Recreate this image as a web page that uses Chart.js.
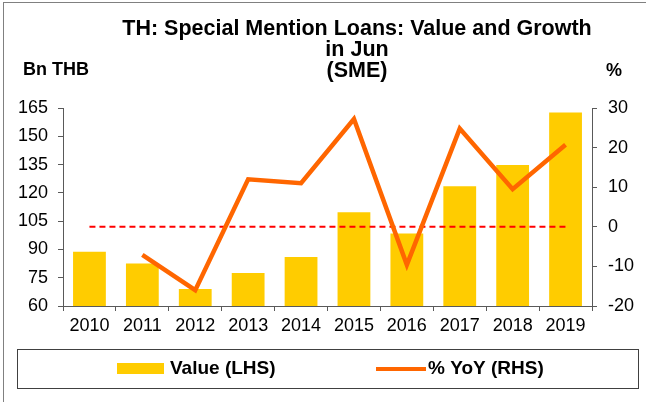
<!DOCTYPE html>
<html>
<head>
<meta charset="utf-8">
<script src="https://cdn.jsdelivr.net/npm/chart.js@4"></script>
<style>
  html, body { margin: 0; padding: 0; background: #fff; }
  #wrap { width: 646px; height: 402px; position: relative; }
</style>
</head>
<body>
<div id="wrap"><canvas id="smlChart"></canvas></div>
<script>
  // Special mention loans (SME), value in Bn THB and YoY growth in %
  const years = ['2010', '2011', '2012', '2013', '2014', '2015', '2016', '2017', '2018', '2019'];
  const valueBn = [88.8, 82.6, 69.0, 77.5, 86.0, 109.7, 98.5, 123.5, 134.8, 162.6];
  const yoyPct = [null, -7.1, -16.0, 12.0, 11.0, 27.2, -9.6, 24.8, 9.5, 20.7];
  const zeroRef = [0, 0, 0, 0, 0, 0, 0, 0, 0, 0];

  const leftAxis = { min: 60, max: 165, step: 15 };
  const rightAxis = { min: -20, max: 30, step: 10 };

  const titleLines = ['TH: Special Mention Loans: Value and Growth', 'in Jun', '(SME)'];

  const BAR_COLOR = '#FFCC00';
  const LINE_COLOR = '#FF6600';
  const FONT = '"Liberation Sans", Arial, sans-serif';

  // title, unit captions, legend box and outer frame
  const decor = {
    id: 'decor',
    beforeDraw(chart) {
      const ctx = chart.ctx;
      ctx.save();
      ctx.fillStyle = '#fff';
      ctx.fillRect(0, 0, chart.width, chart.height);
      ctx.restore();
    },
    afterDraw(chart) {
      const ctx = chart.ctx;
      const ds = chart.data.datasets;
      ctx.save();

      ctx.strokeStyle = '#808080';
      ctx.lineWidth = 1;
      ctx.strokeRect(3.5, 2.5, 700, 500);

      ctx.fillStyle = '#000';
      ctx.textBaseline = 'middle';
      ctx.textAlign = 'center';
      ctx.font = 'bold 21.5px ' + FONT;
      titleLines.forEach((t, i) => ctx.fillText(t, 357, 29 + i * 21));

      ctx.textAlign = 'left';
      ctx.font = 'bold 18px ' + FONT;
      ctx.fillText('Bn THB', 23, 70);
      ctx.fillText('%', 606, 71);

      // legend
      ctx.strokeStyle = '#404040';
      ctx.strokeRect(17.5, 349.5, 621, 39);
      ctx.font = 'bold 19px ' + FONT;
      ctx.fillStyle = ds[0].backgroundColor;
      ctx.fillRect(117, 363, 47, 11);
      ctx.fillStyle = '#000';
      ctx.fillText(ds[0].label, 170, 369);
      ctx.strokeStyle = ds[1].borderColor;
      ctx.lineWidth = 4;
      ctx.beginPath();
      ctx.moveTo(376, 369);
      ctx.lineTo(426, 369);
      ctx.stroke();
      ctx.fillText(ds[1].label, 428, 369);

      ctx.restore();
    }
  };

  const tickFont = { family: FONT, size: 18 };
  const axisGrey = '#595959';

  new Chart(document.getElementById('smlChart'), {
    type: 'bar',
    data: {
      labels: years,
      datasets: [
        {
          label: 'Value (LHS)',
          data: valueBn,
          backgroundColor: BAR_COLOR,
          borderWidth: 0,
          yAxisID: 'yL',
          categoryPercentage: 1,
          barPercentage: 0.62,
          order: 3
        },
        {
          type: 'line',
          label: '% YoY (RHS)',
          data: yoyPct,
          borderColor: LINE_COLOR,
          borderWidth: 4.5,
          pointRadius: 0,
          fill: false,
          yAxisID: 'yR',
          order: 1
        },
        {
          type: 'line',
          label: 'zero',
          data: zeroRef,
          borderColor: '#FF0000',
          borderWidth: 2,
          borderDash: [6, 4],
          pointRadius: 0,
          fill: false,
          yAxisID: 'yR',
          order: 2
        }
      ]
    },
    options: {
      responsive: true,
      maintainAspectRatio: false,
      animation: false,
      layout: { padding: { top: 108, bottom: 56, left: 0, right: 0 } },
      plugins: {
        legend: { display: false },
        title: { display: false },
        tooltip: { enabled: false }
      },
      scales: {
        x: {
          offset: true,
          afterFit: s => { s.height = 40; },
          grid: {
            offset: true,
            drawOnChartArea: false,
            drawTicks: true,
            tickLength: 5,
            color: axisGrey
          },
          border: { display: true, color: axisGrey, width: 1 },
          ticks: { color: '#000', font: tickFont, padding: 4, maxRotation: 0, autoSkip: false }
        },
        yL: {
          position: 'left',
          min: leftAxis.min,
          max: leftAxis.max,
          afterFit: s => { s.width = 63; },
          grid: { drawOnChartArea: false, tickLength: 5, color: axisGrey },
          border: { display: true, color: axisGrey, width: 1 },
          ticks: { stepSize: leftAxis.step, color: '#000', font: tickFont, padding: 10 }
        },
        yR: {
          position: 'right',
          min: rightAxis.min,
          max: rightAxis.max,
          afterFit: s => { s.width = 54; },
          grid: { drawOnChartArea: false, tickLength: 5, color: axisGrey },
          border: { display: true, color: axisGrey, width: 1 },
          ticks: { stepSize: rightAxis.step, color: '#000', font: tickFont, padding: 11 }
        }
      }
    },
    plugins: [decor]
  });
</script>
</body>
</html>
